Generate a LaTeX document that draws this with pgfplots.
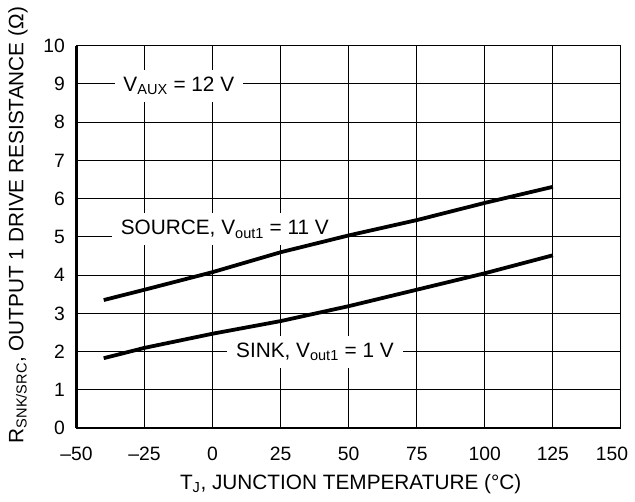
\documentclass[border=0pt]{standalone}
\usepackage{pgfplots}
\pgfplotsset{compat=1.18}
\usepackage{fontspec}
\setmainfont{Liberation Sans}
\newcommand{\lf}{\fontsize{21}{25}\selectfont}
\newcommand{\tf}{\fontsize{19.5}{23}\selectfont}
\begin{document}
\lf
\begin{tikzpicture}
\begin{axis}[name=ax,
  scale only axis, width=548bp, height=385bp,
  xmin=-50, xmax=150, ymin=0, ymax=10,
  xtick={-50,-25,0,25,50,75,100,125,150}, ytick={0,1,2,3,4,5,6,7,8,9,10},
  xticklabels={\textendash50,\textendash25,0,25,50,75,100,125,\hspace*{-18bp}150},
  yticklabels={0,1,2,3,4,5,6,7,8,9,10},
  axis x line=bottom, axis y line=left,
  axis line style={-, line width=2.4bp},
  major tick length=0pt,
  grid=major, grid style={black, line width=1bp},
  tick label style={font=\tf},
  xticklabel style={yshift=-12bp},
  yticklabel style={xshift=-4.5bp},
  clip=false,
]
\node[fill=white, inner xsep=9bp, inner ysep=7bp, font=\lf] at (axis cs:-12.4,8.95) {V\textsubscript{AUX} = 12 V};
\node[fill=white, inner xsep=9bp, inner ysep=7bp, font=\lf] at (axis cs:4.5,5.2) {SOURCE, V\textsubscript{out1} = 11 V};
\node[fill=white, inner xsep=9bp, inner ysep=7bp, font=\lf] at (axis cs:37.6,2.0) {SINK, V\textsubscript{out1} = 1 V};
\addplot[black, line width=3.8bp] coordinates {(-40,3.35) (-25,3.62) (0,4.08) (25,4.6) (50,5.04) (75,5.44) (100,5.89) (125,6.31)};
\addplot[black, line width=3.8bp] coordinates {(-40,1.83) (-25,2.1) (0,2.47) (25,2.8) (50,3.19) (75,3.62) (100,4.05) (125,4.52)};
\end{axis}
\node[rotate=90, font=\lf] at ([shift={(-59bp,12bp)}]ax.west) {R\textsubscript{SNK/SRC}, OUTPUT 1 DRIVE RESISTANCE (Ω)};
\node[font=\lf, anchor=base] at ([shift={(2bp,-62bp)}]ax.south) {T\textsubscript{J}, JUNCTION TEMPERATURE (°C)};
\path[use as bounding box] ([shift={(-77bp,-66bp)}]ax.south west) rectangle ([shift={(10bp,46bp)}]ax.north east);
\end{tikzpicture}
\end{document}
